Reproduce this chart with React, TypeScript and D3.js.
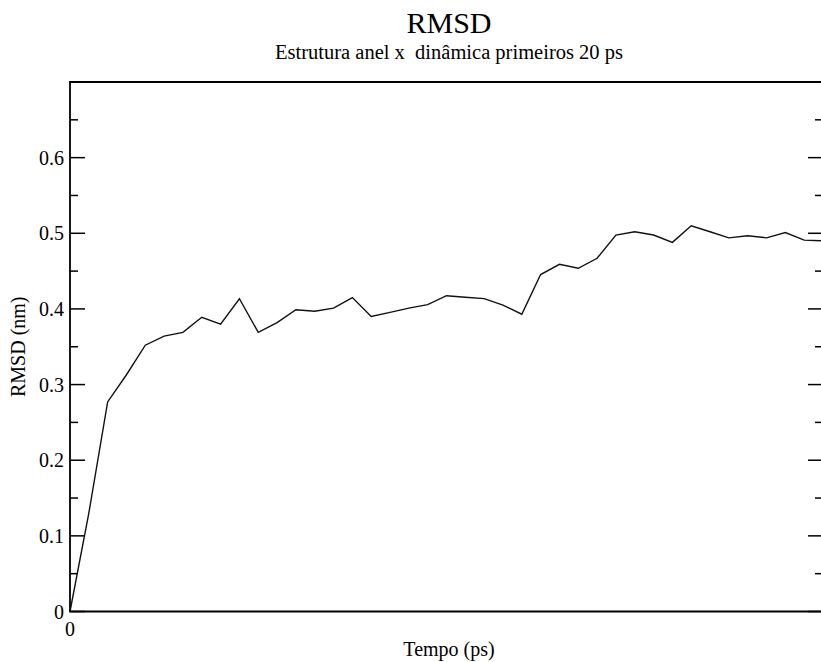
import React from "react";
import * as d3 from "d3";

const times = [0, 0.5, 1, 1.5, 2, 2.5, 3, 3.5, 4, 4.5, 5, 5.5, 6, 6.5, 7, 7.5, 8, 8.5, 9, 9.5, 10, 10.5, 11, 11.5, 12, 12.5, 13, 13.5, 14, 14.5, 15, 15.5, 16, 16.5, 17, 17.5, 18, 18.5, 19, 19.5, 20];
const rmsd = [0, 0.13, 0.277, 0.313, 0.352, 0.364, 0.369, 0.389, 0.38, 0.4135, 0.369, 0.382, 0.399, 0.397, 0.401, 0.415, 0.39, 0.3955, 0.401, 0.4056, 0.4175, 0.4154, 0.4136, 0.405, 0.393, 0.4455, 0.459, 0.4537, 0.467, 0.4977, 0.502, 0.4977, 0.488, 0.51, 0.502, 0.494, 0.4968, 0.494, 0.501, 0.491, 0.49];
const yMajorTicks = [0, 0.1, 0.2, 0.3, 0.4, 0.5, 0.6];
const yMinorTicks = [0.05, 0.15, 0.25, 0.35, 0.45, 0.55, 0.65];
const xTickLabels = [0];
const title = "RMSD";
const subtitle = "Estrutura anel x  dinâmica primeiros 20 ps";
const xLabel = "Tempo (ps)";
const yLabel = "RMSD (nm)";

export default function App() {
  const W = 821, H = 662;
  const L = 70, R = 823, T = 82, B = 611.5;
  const x = d3.scaleLinear().domain([0, 20]).range([L, R]);
  const y = d3.scaleLinear().domain([0, 0.7]).range([B, T]);
  const pts = times.map((t, i) => [t, rmsd[i]] as [number, number]);
  const line = d3.line<[number, number]>().x(d => x(d[0])).y(d => y(d[1]));
  const font = "'Liberation Serif', 'Times New Roman', serif";
  const fmt = (v: number) => (v === 0 ? "0" : d3.format(".1f")(v));
  const cx = 449;
  return (
    <>
      <style>{`body{margin:0}`}</style>
      <svg width={W} height={H} style={{ display: "block", background: "#fff" }} fontFamily={font}>
        <text x={cx} y={33} textAnchor="middle" fontSize={30} fill="#000">{title}</text>
        <text x={cx} y={58.5} textAnchor="middle" fontSize={20.5} fill="#000" style={{ whiteSpace: "pre" }}>{subtitle}</text>
        <path d={line(pts) || ""} fill="none" stroke="#111" strokeWidth={1.4} strokeLinejoin="miter" />
        {yMajorTicks.map(v => (
          <g key={"M" + v}>
            <line x1={L} x2={L + 15} y1={y(v)} y2={y(v)} stroke="#000" strokeWidth={1.5} />
            <line x1={R} x2={R - 15} y1={y(v)} y2={y(v)} stroke="#000" strokeWidth={1.5} />
            <text x={L - 6} y={y(v)} dy="0.35em" textAnchor="end" fontSize={20} fill="#000">{fmt(v)}</text>
          </g>
        ))}
        {yMinorTicks.map(v => (
          <g key={"m" + v}>
            <line x1={L} x2={L + 8} y1={y(v)} y2={y(v)} stroke="#000" strokeWidth={1.5} />
            <line x1={R} x2={R - 8} y1={y(v)} y2={y(v)} stroke="#000" strokeWidth={1.5} />
          </g>
        ))}
        {xTickLabels.map(v => (
          <text key={"x" + v} x={x(v)} y={B + 24} textAnchor="middle" fontSize={20} fill="#000">{fmt(v)}</text>
        ))}
        <path d={`M${R},${T}H${L}V${B}H${R}Z`} fill="none" stroke="#000" strokeWidth={1.8} />
        <text x={cx} y={656} textAnchor="middle" fontSize={20} fill="#000">{xLabel}</text>
        <text transform={`translate(25,${(T + B) / 2}) rotate(-90)`} textAnchor="middle" fontSize={20} fill="#000">{yLabel}</text>
      </svg>
    </>
  );
}
